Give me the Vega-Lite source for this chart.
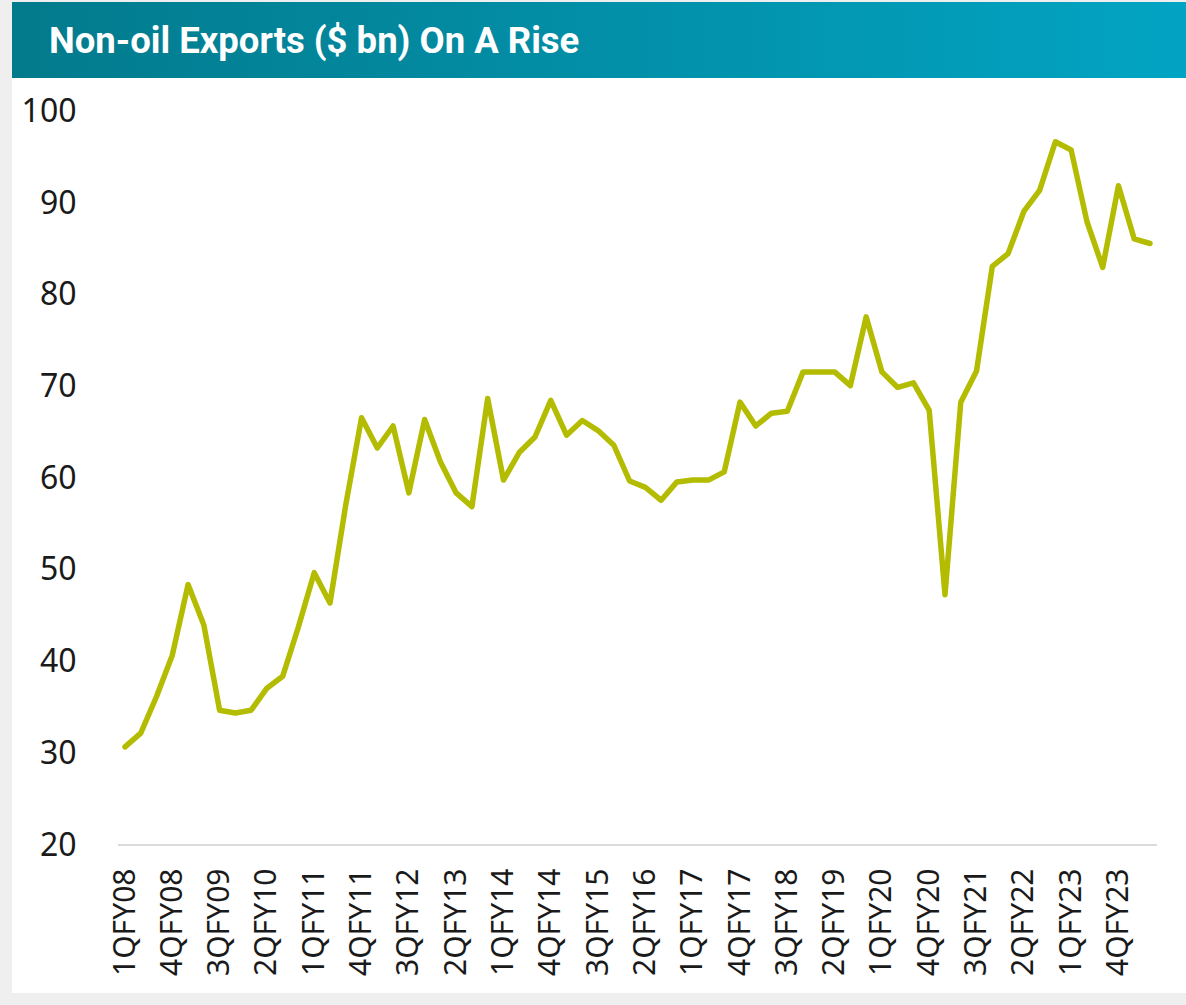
{
  "$schema": "https://vega.github.io/schema/vega-lite/v6.json",
  "width": 1174,
  "height": 991,
  "autosize": {"type": "none"},
  "padding": {"left": 12, "top": 2, "right": 0, "bottom": 12},
  "background": "#efefef",
  "config": {"view": {"fill": "white", "stroke": null}},
  "datasets": {
    "exports": [
      {"quarter": "1QFY08", "value": 30.7}, {"quarter": "2QFY08", "value": 32.2}, {"quarter": "3QFY08", "value": 36.2}, {"quarter": "4QFY08", "value": 40.7},
      {"quarter": "1QFY09", "value": 48.4}, {"quarter": "2QFY09", "value": 44.0}, {"quarter": "3QFY09", "value": 34.7}, {"quarter": "4QFY09", "value": 34.4},
      {"quarter": "1QFY10", "value": 34.7}, {"quarter": "2QFY10", "value": 37.1}, {"quarter": "3QFY10", "value": 38.4}, {"quarter": "4QFY10", "value": 43.8},
      {"quarter": "1QFY11", "value": 49.7}, {"quarter": "2QFY11", "value": 46.4}, {"quarter": "3QFY11", "value": 57.1}, {"quarter": "4QFY11", "value": 66.6},
      {"quarter": "1QFY12", "value": 63.3}, {"quarter": "2QFY12", "value": 65.7}, {"quarter": "3QFY12", "value": 58.4}, {"quarter": "4QFY12", "value": 66.4},
      {"quarter": "1QFY13", "value": 61.8}, {"quarter": "2QFY13", "value": 58.4}, {"quarter": "3QFY13", "value": 56.9}, {"quarter": "4QFY13", "value": 68.7},
      {"quarter": "1QFY14", "value": 59.8}, {"quarter": "2QFY14", "value": 62.8}, {"quarter": "3QFY14", "value": 64.5}, {"quarter": "4QFY14", "value": 68.5},
      {"quarter": "1QFY15", "value": 64.7}, {"quarter": "2QFY15", "value": 66.3}, {"quarter": "3QFY15", "value": 65.2}, {"quarter": "4QFY15", "value": 63.6},
      {"quarter": "1QFY16", "value": 59.7}, {"quarter": "2QFY16", "value": 59.0}, {"quarter": "3QFY16", "value": 57.6}, {"quarter": "4QFY16", "value": 59.6},
      {"quarter": "1QFY17", "value": 59.8}, {"quarter": "2QFY17", "value": 59.8}, {"quarter": "3QFY17", "value": 60.7}, {"quarter": "4QFY17", "value": 68.3},
      {"quarter": "1QFY18", "value": 65.7}, {"quarter": "2QFY18", "value": 67.1}, {"quarter": "3QFY18", "value": 67.3}, {"quarter": "4QFY18", "value": 71.6},
      {"quarter": "1QFY19", "value": 71.6}, {"quarter": "2QFY19", "value": 71.6}, {"quarter": "3QFY19", "value": 70.1}, {"quarter": "4QFY19", "value": 77.6},
      {"quarter": "1QFY20", "value": 71.6}, {"quarter": "2QFY20", "value": 69.9}, {"quarter": "3QFY20", "value": 70.4}, {"quarter": "4QFY20", "value": 67.4},
      {"quarter": "1QFY21", "value": 47.3}, {"quarter": "2QFY21", "value": 68.3}, {"quarter": "3QFY21", "value": 71.7}, {"quarter": "4QFY21", "value": 83.1},
      {"quarter": "1QFY22", "value": 84.5}, {"quarter": "2QFY22", "value": 89.1}, {"quarter": "3QFY22", "value": 91.4}, {"quarter": "4QFY22", "value": 96.7},
      {"quarter": "1QFY23", "value": 95.8}, {"quarter": "2QFY23", "value": 88.0}, {"quarter": "3QFY23", "value": 83.0}, {"quarter": "4QFY23", "value": 91.9},
      {"quarter": "1QFY24", "value": 86.1}, {"quarter": "2QFY24", "value": 85.6}
    ],
    "header": [{"title": "Non-oil Exports ($ bn) On A Rise"}]
  },
  "resolve": {"scale": {"x": "independent", "y": "independent"}},
  "layer": [
    {
      "data": {"name": "exports"},
      "layer": [
        {
          "mark": {"type": "line", "color": "#b3bc00", "strokeWidth": 5.5, "strokeJoin": "round", "strokeCap": "round"},
          "encoding": {
            "x": {
              "field": "quarter",
              "type": "ordinal",
              "scale": {
                "type": "point",
                "domain": ["1QFY08","2QFY08","3QFY08","4QFY08","1QFY09","2QFY09","3QFY09","4QFY09","1QFY10","2QFY10","3QFY10","4QFY10","1QFY11","2QFY11","3QFY11","4QFY11","1QFY12","2QFY12","3QFY12","4QFY12","1QFY13","2QFY13","3QFY13","4QFY13","1QFY14","2QFY14","3QFY14","4QFY14","1QFY15","2QFY15","3QFY15","4QFY15","1QFY16","2QFY16","3QFY16","4QFY16","1QFY17","2QFY17","3QFY17","4QFY17","1QFY18","2QFY18","3QFY18","4QFY18","1QFY19","2QFY19","3QFY19","4QFY19","1QFY20","2QFY20","3QFY20","4QFY20","1QFY21","2QFY21","3QFY21","4QFY21","1QFY22","2QFY22","3QFY22","4QFY22","1QFY23","2QFY23","3QFY23","4QFY23","1QFY24","2QFY24"],
                "range": [113, 1138],
                "padding": 0,
                "round": false
              },
              "axis": {
                "values": ["1QFY08","4QFY08","3QFY09","2QFY10","1QFY11","4QFY11","3QFY12","2QFY13","1QFY14","4QFY14","3QFY15","2QFY16","1QFY17","4QFY17","3QFY18","2QFY19","1QFY20","4QFY20","3QFY21","2QFY22","1QFY23","4QFY23"],
                "title": null,
                "domain": false,
                "ticks": false,
                "tickSize": 0,
                "grid": false,
                "offset": -148,
                "labelAngle": -90,
                "labelAlign": "right",
                "labelBaseline": "middle",
                "labelPadding": 23,
                "labelFont": "Noto Sans",
                "labelFontSize": 30,
                "labelColor": "#1a1a1a",
                "labelOverlap": false,
                "labelBound": false,
                "labelFlush": false
              }
            },
            "y": {
              "field": "value",
              "type": "quantitative",
              "scale": {"domain": [3.86, 111.94], "nice": false, "zero": false},
              "axis": {
                "values": [20, 30, 40, 50, 60, 70, 80, 90, 100],
                "title": null,
                "domain": false,
                "ticks": false,
                "tickSize": 0,
                "grid": false,
                "offset": -64,
                "labelPadding": 0,
                "labelFont": "Noto Sans",
                "labelFontSize": 32,
                "labelColor": "#1a1a1a",
                "labelBound": false,
                "labelFlush": false
              }
            }
          }
        },
        {
          "mark": {"type": "rule", "color": "#dadada", "strokeWidth": 2, "xOffset": -7, "x2Offset": 7},
          "encoding": {
            "x": {"datum": "1QFY08", "type": "ordinal"},
            "x2": {"datum": "2QFY24"},
            "y": {"datum": 20, "type": "quantitative"}
          }
        }
      ]
    },
    {
      "data": {"name": "header"},
      "layer": [
        {
          "mark": {
            "type": "rect",
            "color": {"gradient": "linear", "x1": 0, "x2": 1, "y1": 0, "y2": 0, "stops": [{"offset": 0, "color": "#037a8c"}, {"offset": 1, "color": "#02a4c3"}]}
          },
          "encoding": {
            "x": {"datum": 0, "type": "quantitative", "scale": {"domain": [0, 1], "nice": false, "zero": false}, "axis": null},
            "x2": {"datum": 1},
            "y": {"datum": 1, "type": "quantitative", "scale": {"domain": [0, 1], "nice": false, "zero": false}, "axis": null},
            "y2": {"datum": 0.9233}
          }
        },
        {
          "mark": {"type": "text", "color": "white", "font": "Roboto", "fontWeight": "bold", "fontSize": 36.5, "align": "left", "baseline": "alphabetic"},
          "encoding": {
            "x": {"datum": 0.0315, "type": "quantitative"},
            "y": {"datum": 0.9482, "type": "quantitative"},
            "text": {"field": "title"}
          }
        }
      ]
    }
  ]
}
